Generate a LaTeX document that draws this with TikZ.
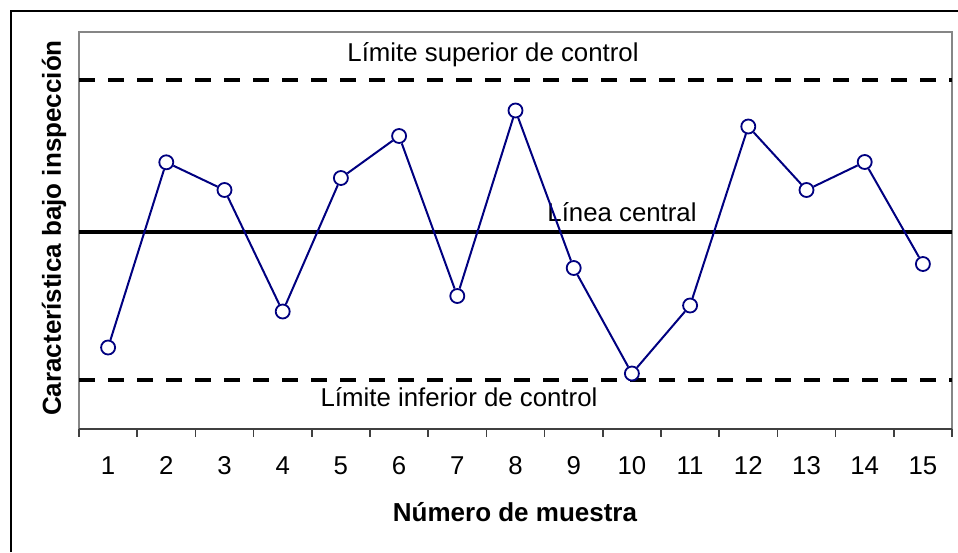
\documentclass[tikz,border=0pt]{standalone}
\usepackage{fontspec}
\setmainfont{Liberation Sans}

\definecolor{serie}{HTML}{000080}
\definecolor{ejegris}{HTML}{868686}
\definecolor{ejeoscuro}{HTML}{404040}

\tikzset{
  punto/.style={circle, draw=serie, fill=white, line width=1.8, inner sep=0, minimum size=14},
  limite/.style={line width=4, dash pattern=on 16pt off 13pt},
}

\begin{document}
\begin{tikzpicture}[x=1pt, y=-1pt, font=\fontsize{25.8}{30}\selectfont]
\useasboundingbox (0,0) rectangle (958,552);
%\draw [help lines, step=50] (0,0) grid (958,552);

% outer frame
\draw [line width=2] (11,552) -- (11,11) -- (958,11);

% plot area
\draw [ejegris, line width=1.5] (79,429) -- (79,32) -- (952,32) -- (952,429);
\draw [ejeoscuro, line width=2] (79,429) -- (952,429);
\foreach \k in {0,...,15}
  \draw [ejeoscuro, line width=1.5] (79+58.2*\k,429) -- (79+58.2*\k,437);
\foreach \k in {1,...,15}
  \node [anchor=base] (n\k) at (79+58.2*\k-29.1,474) {\k};

% control limits and centre line
\draw [limite] (79,80) -- (952,80);
\draw [line width=3.5] (79,232) -- (952,232);
\draw [limite] (79,380) -- (952,380);

\node (lsc) at (493,55) {Límite superior de control};
\node (lc) at (622,212) {Línea central};
\node (lic) at (459,397) {Límite inferior de control};

% samples
\node [punto] (p1) at (108.1,347.5) {};
\node [punto] (p2) at (166.3,162.3) {};
\node [punto] (p3) at (224.5,190) {};
\node [punto] (p4) at (282.7,311.5) {};
\node [punto] (p5) at (340.9,178) {};
\node [punto] (p6) at (399.1,136) {};
\node [punto] (p7) at (457.3,296) {};
\node [punto] (p8) at (515.5,110.5) {};
\node [punto] (p9) at (573.7,268) {};
\node [punto] (p10) at (631.9,373.5) {};
\node [punto] (p11) at (690.1,305.5) {};
\node [punto] (p12) at (748.3,126.5) {};
\node [punto] (p13) at (806.5,190) {};
\node [punto] (p14) at (864.7,162) {};
\node [punto] (p15) at (922.9,264) {};

\draw [serie, line width=2] (p1) -- (p2) -- (p3) -- (p4) -- (p5) -- (p6) -- (p7) -- (p8)
  -- (p9) -- (p10) -- (p11) -- (p12) -- (p13) -- (p14) -- (p15);

% axis titles
\node [font=\fontsize{26}{30}\selectfont\bfseries] (xt) at (515,512) {Número de muestra};
\node [font=\fontsize{26}{30}\selectfont\bfseries, rotate=90] (yt) at (54,228) {Característica bajo inspección};

\end{tikzpicture}
\end{document}
